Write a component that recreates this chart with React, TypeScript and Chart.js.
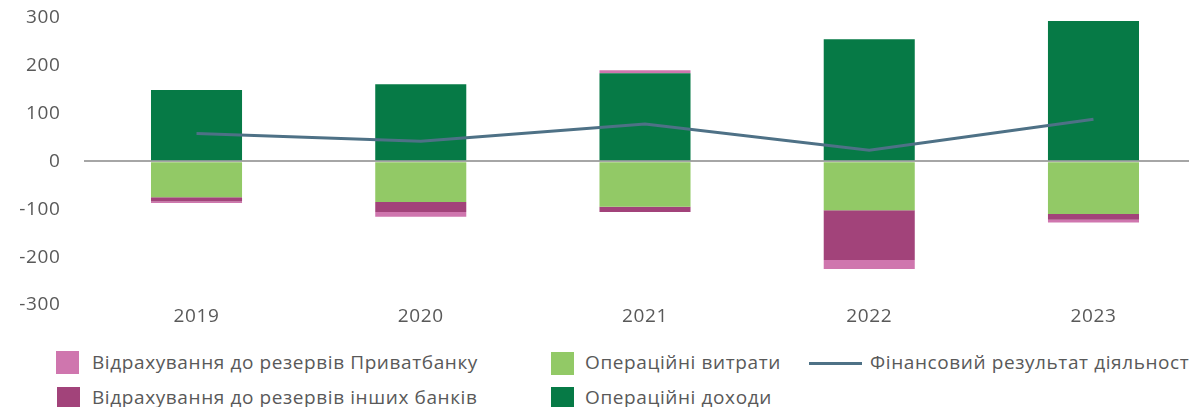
import React, { useEffect, useRef } from "react";
import { Chart, registerables } from "chart.js";

Chart.register(...registerables);

const years = ["2019", "2020", "2021", "2022", "2023"];
const operatingIncome = [149, 161, 184, 255, 293];
const operatingExpenses = [-75, -85, -95, -102, -110];
const otherBanksProvisions = [-9, -21, -11, -104, -12];
const privatbankProvisions = [-3, -10, 6, -19, -6];
const financialResult = [58, 42, 78, 23, 88];
const yTicks = [-300, -200, -100, 0, 100, 200, 300];

const LABEL_PRIVAT = "Відрахування до резервів Приватбанку";
const LABEL_OTHER = "Відрахування до резервів інших банків";
const LABEL_EXP = "Операційні витрати";
const LABEL_INC = "Операційні доходи";
const LABEL_RES = "Фінансовий результат діяльності";

const C_INC = "#067A46";
const C_EXP = "#92C966";
const C_OTHER = "#A2437A";
const C_PRIVAT = "#CF76AE";
const C_LINE = "#4E7186";
const FONT = "'Open Sans', sans-serif";
const TEXT = "#595959";
const SPACING = "0.6px";

const spacingPlugin = {
  id: "spacing",
  beforeDraw: (chart: any) => {
    try {
      chart.ctx.letterSpacing = SPACING;
    } catch (e) {}
  },
};

export default function App() {
  const ref = useRef<HTMLCanvasElement | null>(null);

  useEffect(() => {
    if (!ref.current) return;
    const chart = new Chart(ref.current, {
      type: "bar",
      data: {
        labels: years,
        datasets: [
          {
            type: "line",
            label: LABEL_RES,
            data: financialResult,
            borderColor: C_LINE,
            borderWidth: 3,
            pointRadius: 0,
            fill: false,
            tension: 0,
            order: 0,
          } as any,
          { label: LABEL_INC, data: operatingIncome, backgroundColor: C_INC, stack: "s", order: 1 },
          { label: LABEL_EXP, data: operatingExpenses, backgroundColor: C_EXP, stack: "s", order: 1 },
          { label: LABEL_OTHER, data: otherBanksProvisions, backgroundColor: C_OTHER, stack: "s", order: 1 },
          { label: LABEL_PRIVAT, data: privatbankProvisions, backgroundColor: C_PRIVAT, stack: "s", order: 1 },
        ],
      },
      plugins: [spacingPlugin],
      options: {
        animation: false,
        responsive: false,
        maintainAspectRatio: false,
        layout: { padding: { top: 17.6, right: 24.4, left: 0, bottom: 0 } },
        datasets: {
          bar: { categoryPercentage: 1, barPercentage: 0.406, borderWidth: 0 },
        },
        plugins: {
          legend: { display: false },
          tooltip: { enabled: false },
        },
        scales: {
          x: {
            stacked: true,
            grid: { display: false, drawTicks: false },
            border: { display: false },
            ticks: { color: TEXT, font: { family: FONT, size: 19 }, padding: 0 },
            afterFit: (s: any) => {
              s.height = 30;
              s.paddingLeft = 0;
              s.paddingRight = 0;
            },
          },
          y: {
            stacked: true,
            min: yTicks[0],
            max: yTicks[yTicks.length - 1],
            afterBuildTicks: (s: any) => {
              s.ticks = yTicks.map((v) => ({ value: v }));
            },
            grid: {
              drawTicks: false,
              color: (c: any) => (c.tick && c.tick.value === 0 ? "#A6A6A6" : "rgba(0,0,0,0)"),
              lineWidth: 2,
            },
            border: { display: false },
            ticks: { color: TEXT, font: { family: FONT, size: 19 }, padding: 24 },
            afterFit: (s: any) => {
              s.width = 84.4;
              s.paddingTop = 0;
              s.paddingBottom = 0;
            },
          },
        },
      },
    });
    return () => chart.destroy();
  }, []);

  const sw = (left: number, top: number, color: string) => (
    <div style={{ position: "absolute", left, top, width: 23, height: 23, background: color }} />
  );
  const txt = (left: number, centerY: number, label: string) => (
    <div
      style={{
        position: "absolute",
        left,
        top: centerY - 13,
        height: 26,
        lineHeight: "26px",
        fontFamily: FONT,
        fontSize: 19,
        letterSpacing: SPACING,
        color: TEXT,
        whiteSpace: "nowrap",
      }}
    >
      {label}
    </div>
  );

  return (
    <div
      style={{
        position: "fixed",
        left: 0,
        top: 0,
        width: 1189,
        height: 407,
        overflow: "hidden",
        background: "#fff",
      }}
    >
      <canvas
        ref={ref}
        width={1230}
        height={335}
        style={{ position: "absolute", left: 0, top: 0, width: 1230, height: 335 }}
      />
      {sw(56, 351, C_PRIVAT)}
      {txt(92, 362, LABEL_PRIVAT)}
      {sw(57, 387, C_OTHER)}
      {txt(92, 397, LABEL_OTHER)}
      {sw(551, 352, C_EXP)}
      {txt(585, 362, LABEL_EXP)}
      {sw(551, 387, C_INC)}
      {txt(585, 397, LABEL_INC)}
      <div style={{ position: "absolute", left: 809, top: 362, width: 53, height: 3, background: C_LINE }} />
      {txt(870, 362, LABEL_RES)}
    </div>
  );
}
